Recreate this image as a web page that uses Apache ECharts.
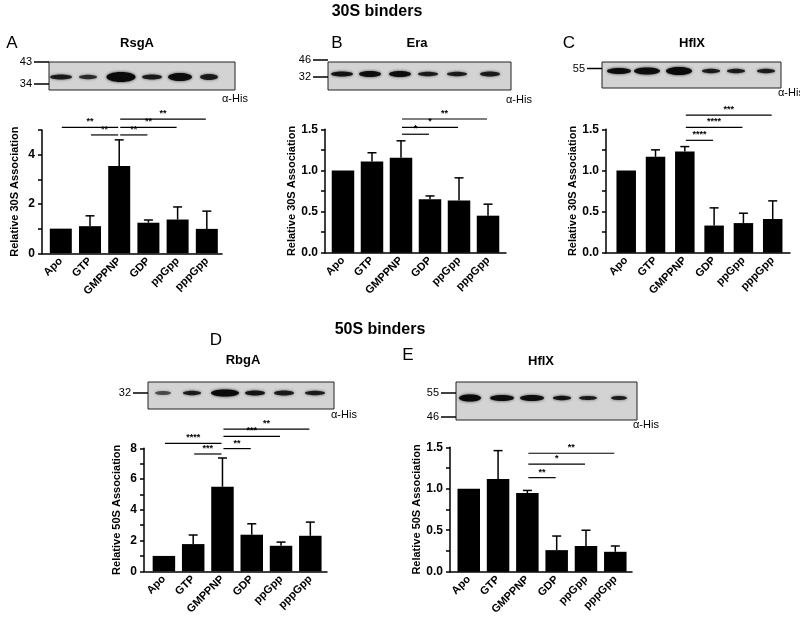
<!DOCTYPE html>
<html>
<head>
<meta charset="utf-8">
<script src="https://cdn.jsdelivr.net/npm/echarts@6/dist/echarts.min.js"></script>
<style>
html,body{margin:0;padding:0;background:#fff;}
#chart{width:800px;height:619px;}
</style>
</head>
<body>
<div id="chart"></div>
<script>
// ---------- data ----------
const categories = ['Apo', 'GTP', 'GMPPNP', 'GDP', 'ppGpp', 'pppGpp'];

// 30S binders
const rsgaMean   = [1.0, 1.10, 3.54, 1.24, 1.37, 0.99];
const rsgaErrTop = [null, 1.52, 4.60, 1.35, 1.88, 1.71];
const eraMean    = [1.0, 1.11, 1.155, 0.65, 0.635, 0.45];
const eraErrTop  = [null, 1.215, 1.36, 0.69, 0.91, 0.59];
const hflx30Mean   = [1.0, 1.165, 1.23, 0.33, 0.36, 0.41];
const hflx30ErrTop = [null, 1.25, 1.29, 0.545, 0.48, 0.63];

// 50S binders
const rbgaMean   = [1.0, 1.77, 5.50, 2.38, 1.66, 2.31];
const rbgaErrTop = [null, 2.36, 7.37, 3.09, 1.90, 3.20];
const hflx50Mean   = [1.0, 1.118, 0.949, 0.26, 0.31, 0.24];
const hflx50ErrTop = [null, 1.46, 0.98, 0.43, 0.50, 0.31];

// significance brackets: [from category, to category, height (data units), label]
const rsgaSig   = [[0, 2, 5.11, '**'], [1, 2, 4.80, '**'], [2, 3, 4.80, '**'], [2, 4, 5.11, '**'], [2, 5, 5.44, '**']];
const eraSig    = [[2, 3, 1.44, '*'], [2, 4, 1.524, '*'], [2, 5, 1.625, '**']];
const hflx30Sig = [[2, 3, 1.366, '****'], [2, 4, 1.524, '****'], [2, 5, 1.673, '***']];
const rbgaSig   = [[0, 2, 8.32, '****'], [1, 2, 7.63, '***'], [2, 3, 7.98, '**'], [2, 4, 8.77, '***'], [2, 5, 9.25, '**']];
const hflx50Sig = [[2, 3, 1.134, '**'], [2, 4, 1.296, '*'], [2, 5, 1.428, '**']];

// y-axis tick values
const yTicksA = [0, 2, 4];
const yTicksD = [0, 2, 4, 6, 8];
const yTicksFrac = [0.0, 0.5, 1.0, 1.5];

// blot band appearance per lane: [width, thickness, darkness]
const rsgaBands   = [[22, 5, 0.85], [18, 4.5, 0.75], [29, 10, 1], [20, 5, 0.85], [24, 8, 0.95], [18, 6, 0.85]];
const eraBands    = [[22, 5, 0.9], [22, 6, 0.95], [22, 6, 0.95], [20, 4.5, 0.85], [20, 4.5, 0.85], [20, 5, 0.85]];
const hflx30Bands = [[24, 6, 0.95], [26, 7, 0.95], [26, 8, 1], [18, 4.5, 0.85], [18, 4.5, 0.85], [18, 4.5, 0.85]];
const rbgaBands   = [[16, 4, 0.6], [18, 4.5, 0.85], [28, 7, 1], [20, 5, 0.9], [20, 5, 0.85], [20, 4.5, 0.85]];
const hflx50Bands = [[22, 7, 1], [24, 6, 0.95], [24, 6, 0.95], [18, 4.5, 0.9], [18, 4, 0.85], [16, 4, 0.85]];

// ---------- layout ----------
const FONT = '"Liberation Sans", Arial, Helvetica, sans-serif';
const panels = [
  { grid: { left: 42, top: 130, width: 180, height: 123.3 }, xmin: -0.644, xmax: 5.52, ymax: 5, yint: 1, labels: yTicksA,
    name: 'Relative 30S Association', nameGap: 22, mean: rsgaMean, err: rsgaErrTop, sig: rsgaSig, barWidth: 22, dec: 0 },
  { grid: { left: 325, top: 129.3, width: 181, height: 123.4 }, xmin: -0.62, xmax: 5.62, ymax: 1.5, yint: 0.25, labels: yTicksFrac,
    name: 'Relative 30S Association', nameGap: 28, mean: eraMean, err: eraErrTop, sig: eraSig, barWidth: 22.5, dec: 1 },
  { grid: { left: 606, top: 129.3, width: 184, height: 123.4 }, xmin: -0.69, xmax: 5.59, ymax: 1.5, yint: 0.25, labels: yTicksFrac,
    name: 'Relative 30S Association', nameGap: 28, mean: hflx30Mean, err: hflx30ErrTop, sig: hflx30Sig, barWidth: 19.5, dec: 1 },
  { grid: { left: 144, top: 448.3, width: 183, height: 123 }, xmin: -0.68, xmax: 5.57, ymax: 8, yint: 1, labels: yTicksD,
    name: 'Relative 50S Association', nameGap: 22, mean: rbgaMean, err: rbgaErrTop, sig: rbgaSig, barWidth: 22.5, dec: 0 },
  { grid: { left: 450, top: 447.3, width: 182, height: 124.4 }, xmin: -0.64, xmax: 5.57, ymax: 1.5, yint: 0.25, labels: yTicksFrac,
    name: 'Relative 50S Association', nameGap: 28, mean: hflx50Mean, err: hflx50ErrTop, sig: hflx50Sig, barWidth: 22.5, dec: 1 }
];

const axisLineStyle = { color: '#000', width: 1.5 };
const grids = [], xAxes = [], yAxes = [], series = [];
const idxs = categories.map((c, i) => i);

panels.forEach((p, k) => {
  grids.push(p.grid);
  xAxes.push({
    gridIndex: k, type: 'value', min: p.xmin, max: p.xmax,
    axisLine: { show: true, onZero: false, lineStyle: axisLineStyle },
    axisTick: { show: false, customValues: idxs },
    splitLine: { show: false },
    axisLabel: {
      customValues: idxs, rotate: 45, margin: 6,
      formatter: v => categories[Math.round(v)],
      fontSize: 11, fontWeight: 'bold', color: '#000', fontFamily: FONT
    }
  });
  yAxes.push({
    gridIndex: k, type: 'value', min: 0, max: p.ymax, interval: p.yint,
    axisLine: { show: true, onZero: false, lineStyle: axisLineStyle },
    axisTick: { show: true, length: 4, lineStyle: axisLineStyle },
    splitLine: { show: false },
    axisLabel: {
      margin: 7, fontSize: 12, fontWeight: 'bold', color: '#000', fontFamily: FONT,
      formatter: v => p.labels.some(t => Math.abs(t - v) < 1e-6) ? v.toFixed(p.dec) : ''
    },
    name: p.name, nameLocation: 'middle', nameGap: p.nameGap,
    nameTextStyle: { fontSize: 11, fontWeight: 'bold', color: '#000', fontFamily: FONT }
  });
  series.push({
    type: 'bar', xAxisIndex: k, yAxisIndex: k, barWidth: p.barWidth,
    itemStyle: { color: '#000' }, silent: true,
    data: p.mean.map((v, i) => [i, v])
  });
  const errData = [];
  p.err.forEach((t, i) => { if (t !== null) errData.push([i, p.mean[i], t]); });
  series.push({
    type: 'custom', xAxisIndex: k, yAxisIndex: k, silent: true, clip: false,
    encode: { x: 0, y: [1, 2] },
    data: errData,
    renderItem: (params, api) => {
      const a = api.coord([api.value(0), api.value(1)]);
      const b = api.coord([api.value(0), api.value(2)]);
      const st = { stroke: '#000', lineWidth: 1.5 };
      return { type: 'group', children: [
        { type: 'line', shape: { x1: a[0], y1: a[1], x2: b[0], y2: b[1] }, style: st },
        { type: 'line', shape: { x1: b[0] - 4.5, y1: b[1], x2: b[0] + 4.5, y2: b[1] }, style: st }
      ] };
    }
  });
  series.push({
    type: 'custom', xAxisIndex: k, yAxisIndex: k, silent: true, clip: false,
    encode: { x: [0, 1], y: 2 },
    data: p.sig.map(s => [s[0], s[1], s[2]]),
    renderItem: (params, api) => {
      const a = api.coord([api.value(0), api.value(2)]);
      const b = api.coord([api.value(1), api.value(2)]);
      const lbl = p.sig[params.dataIndex][3];
      return { type: 'group', children: [
        { type: 'line', shape: { x1: a[0] + 1, y1: a[1], x2: b[0] - 1, y2: b[1] }, style: { stroke: '#000', lineWidth: 1.2 } },
        { type: 'text', x: (a[0] + b[0]) / 2, y: a[1] - 1,
          style: { text: lbl, fill: '#000', font: 'bold 9px ' + FONT, align: 'center', verticalAlign: 'bottom' } }
      ] };
    }
  });
});

// ---------- decorations (titles, blots) ----------
const graphics = [];
function txt(x, y, s, font, align) {
  graphics.push({ type: 'text', x: x, y: y, silent: true,
    style: { text: s, font: font, fill: '#000', align: align || 'center', verticalAlign: 'middle' } });
}
function blot(box, lanes, bandY, bands, markers, his) {
  graphics.push({ type: 'rect', silent: true, shape: { x: box[0], y: box[1], width: box[2], height: box[3] },
    style: { fill: '#d3d3d3', stroke: '#222', lineWidth: 1 } });
  lanes.forEach((cx, i) => {
    const b = bands[i];
    graphics.push({ type: 'ellipse', silent: true, shape: { cx: cx, cy: bandY, rx: b[0] / 2, ry: b[1] / 2 },
      style: { fill: 'rgba(10,10,10,' + b[2] + ')', shadowBlur: 3, shadowColor: 'rgba(0,0,0,' + (b[2] * 0.8) + ')' } });
  });
  markers.forEach(m => {
    txt(box[0] - 17, m[1], m[0], '11px ' + FONT, 'right');
    graphics.push({ type: 'line', silent: true, shape: { x1: box[0] - 15, y1: m[1], x2: box[0], y2: m[1] },
      style: { stroke: '#000', lineWidth: 1.5 } });
  });
  txt(his[0], his[1], 'α-His', '11px ' + FONT, 'left');
}

txt(377, 12, '30S binders', 'bold 16px ' + FONT);
txt(380, 330, '50S binders', 'bold 16px ' + FONT);

txt(12, 43, 'A', '17px ' + FONT);
txt(337, 43, 'B', '17px ' + FONT);
txt(569, 43, 'C', '17px ' + FONT);
txt(216, 340, 'D', '17px ' + FONT);
txt(408, 355, 'E', '17px ' + FONT);

txt(137, 43, 'RsgA', 'bold 13px ' + FONT);
txt(417, 43, 'Era', 'bold 13px ' + FONT);
txt(692, 43, 'HflX', 'bold 13px ' + FONT);
txt(243, 360, 'RbgA', 'bold 13px ' + FONT);
txt(541, 361, 'HflX', 'bold 13px ' + FONT);

blot([49, 62, 186, 28], [61, 88, 121, 152, 180, 209], 77, rsgaBands, [['43', 62], ['34', 84]], [222, 99]);
blot([328, 62, 183, 28], [342, 370, 400, 428, 457, 490], 74, eraBands, [['46', 60], ['32', 77]], [506, 100]);
blot([602, 62, 179, 26], [619, 647, 679, 711, 736, 766], 71, hflx30Bands, [['55', 68.5]], [778, 93]);
blot([148, 382, 186, 27], [163, 192, 225, 255, 284, 315], 393, rbgaBands, [['32', 393]], [331, 415]);
blot([456, 382, 181, 38], [470, 502, 532, 562, 588, 619], 398, hflx50Bands, [['55', 393], ['46', 417]], [633, 425]);

const chart = echarts.init(document.getElementById('chart'), null, { renderer: 'canvas' });
chart.setOption({
  backgroundColor: '#fff',
  animation: false,
  textStyle: { fontFamily: FONT },
  grid: grids, xAxis: xAxes, yAxis: yAxes, series: series,
  graphic: graphics
});
</script>
</body>
</html>
